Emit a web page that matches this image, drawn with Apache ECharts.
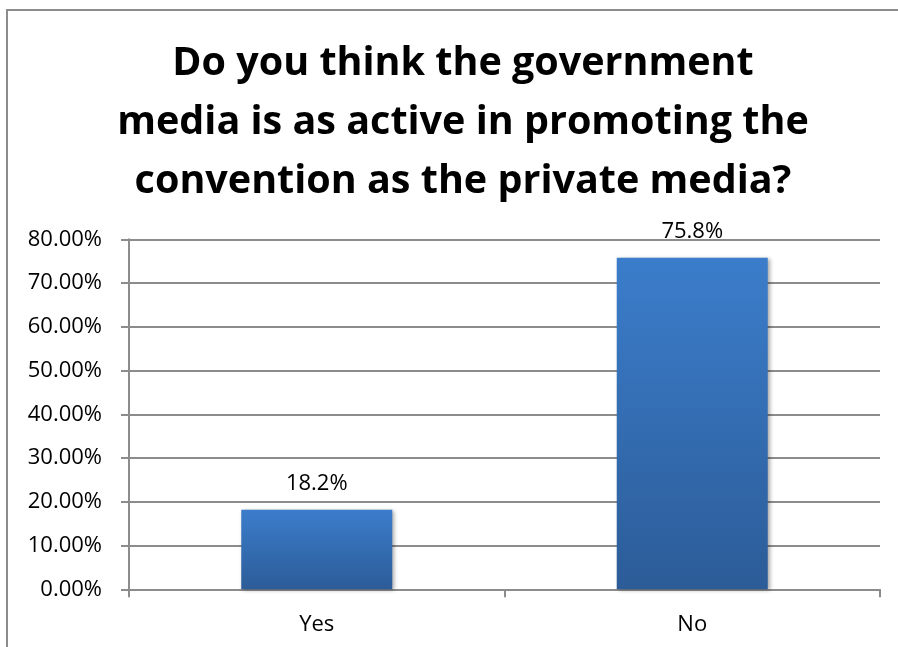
<!DOCTYPE html>
<html>
<head>
<meta charset="utf-8">
<script src="https://cdn.jsdelivr.net/npm/echarts@6/dist/echarts.min.js"></script>
<style>
html,body{margin:0;padding:0;background:#fff;}
#chart{width:898px;height:647px;}
</style>
</head>
<body>
<div id="chart"></div>
<script>
var titleText = "Do you think the government\nmedia is as active in promoting the\nconvention as the private media?";
var categories = ["Yes", "No"];
var values = [18.2, 75.8];
var yMin = 0, yMax = 80, yInterval = 10;

var chart = echarts.init(document.getElementById('chart'), null, {renderer: 'canvas'});
var FONT = '"Open Sans", Lato, sans-serif';
chart.setOption({
  animation: false,
  backgroundColor: '#fff',
  graphic: [{
    type: 'rect',
    shape: {x: 7, y: 10, width: 1000, height: 1000},
    style: {fill: 'none', stroke: '#8c8c8c', lineWidth: 2},
    z: 0
  }],
  title: {
    text: titleText,
    left: 458,
    top: 29,
    textAlign: 'center',
    textStyle: {fontFamily: FONT, fontWeight: 'bold', fontSize: 39.5, lineHeight: 59, color: '#000'}
  },
  grid: {left: 129, right: 18, top: 239.3, bottom: 57.7, containLabel: false},
  xAxis: {
    type: 'category',
    data: categories,
    axisLine: {lineStyle: {color: '#8c8c8c', width: 2}},
    axisTick: {show: true, length: 8, lineStyle: {color: '#8c8c8c', width: 2}, alignWithLabel: false},
    axisLabel: {fontFamily: FONT, fontSize: 22, color: '#000', margin: 24}
  },
  yAxis: {
    type: 'value',
    min: yMin, max: yMax, interval: yInterval,
    axisLine: {show: true, lineStyle: {color: '#8c8c8c', width: 2}},
    axisTick: {show: true, length: 8, lineStyle: {color: '#8c8c8c', width: 2}},
    splitLine: {show: true, lineStyle: {color: '#8c8c8c', width: 2}},
    axisLabel: {fontFamily: FONT, fontSize: 22, color: '#000', margin: 27,
      formatter: function (v) { return v.toFixed(2) + '%'; }}
  },
  series: [{
    type: 'bar',
    data: values,
    barWidth: 151,
    itemStyle: {
      color: new echarts.graphic.LinearGradient(0, 0, 0, 1, [
        {offset: 0, color: '#3b7dcb'},
        {offset: 1, color: '#2c5c98'}
      ]),
      shadowColor: 'rgba(0,0,0,0.35)',
      shadowBlur: 4,
      shadowOffsetX: 2,
      shadowOffsetY: 1
    },
    label: {
      show: true, position: 'top', distance: 15,
      fontFamily: FONT, fontSize: 22, color: '#000',
      formatter: function (p) { return p.value.toFixed(1) + '%'; }
    }
  }]
});
</script>
</body>
</html>
